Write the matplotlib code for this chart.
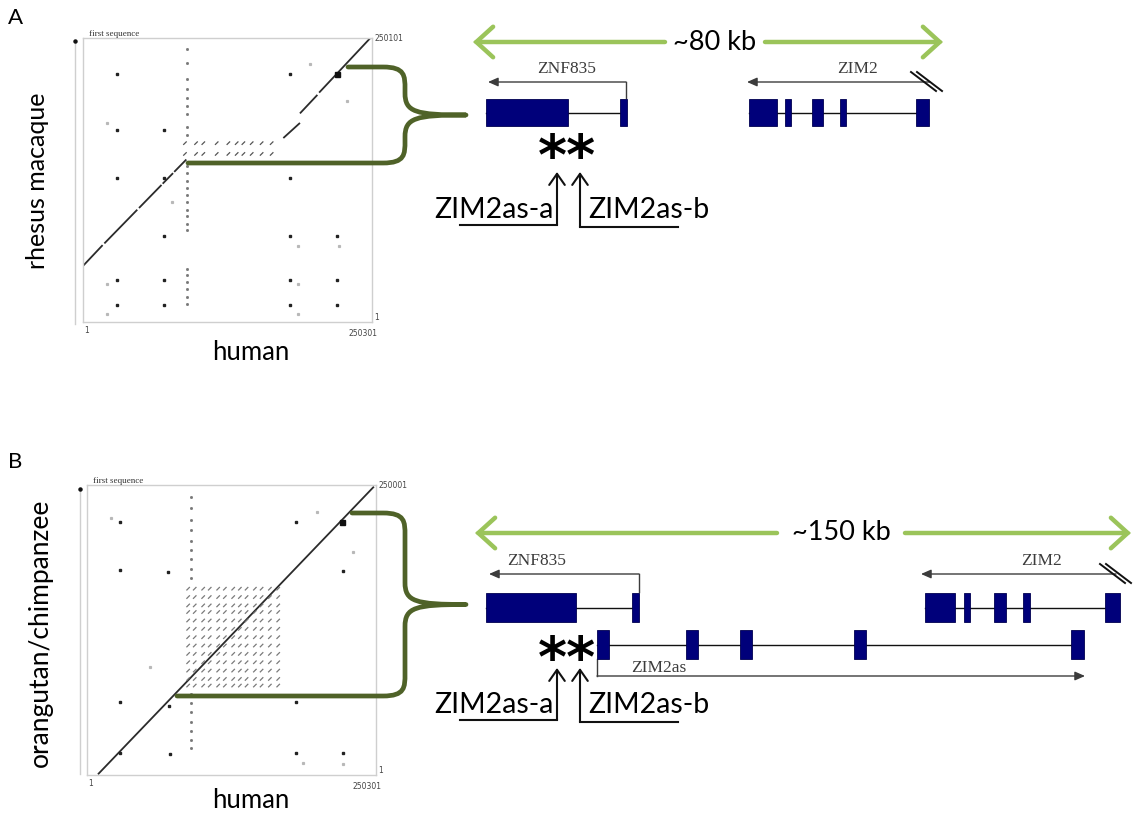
import matplotlib
matplotlib.use('Agg')
import matplotlib.pyplot as plt
from matplotlib.path import Path
from matplotlib.patches import PathPatch, Rectangle, FancyArrowPatch

W, H = 1136, 823
SANS = ['Lato', 'DejaVu Sans']
SERIF = ['Liberation Serif', 'DejaVu Serif']

# ---------------- data: dot plots (sequence coordinates, bp) ----------------
A_xmax, A_ymax = 250301, 250101
B_xmax, B_ymax = 250301, 250001
A_corner_labels = ['1', '250301', '1', '250101']
B_corner_labels = ['1', '250301', '1', '250001']

# diagonal alignment pieces: x0, y0, x1, y1
A_diag_x0 = [300, 18500, 48500, 69000, 79000, 173500, 187900, 204500]
A_diag_y0 = [49700, 69200, 100400, 121800, 132200, 162000, 183700, 202000]
A_diag_x1 = [17000, 47000, 68000, 78000, 89500, 187900, 203000, 248600]
A_diag_y1 = [67700, 98900, 120700, 131100, 143100, 175300, 200000, 249800]

B_diag_x0 = [9500]
B_diag_y0 = [600]
B_diag_x1 = [248500]
B_diag_y1 = [248600]

# tandem-repeat copies (human x, other species y)
A_rep_x = [88300, 97900, 104200, 115800, 125900, 133100, 138900, 146100, 154700, 163400]
A_rep_y = [148000, 157500]
B_rep_x = [87600, 93300, 100600, 106300, 113600, 119400, 126600, 132400, 138200,
           145400, 151200, 158400, 165600]
B_rep_y = [77100, 82800, 90000, 97200, 104400, 111600, 118800, 126000, 133200,
           140500, 146200, 153400, 160600]

# dotted column of short repeat hits
A_col_x = 89800
A_col_y = [240000, 228000, 214000, 205000, 197000, 190000, 183000, 172000, 165000,
           137000, 131000, 124000, 118000, 112000, 106000, 99000, 93000, 86000, 81000,
           47000, 41000, 35000, 29000, 22000, 16000]
B_col_x = 90500
B_col_y = [240000, 230000, 220000, 211000, 202000, 194000, 186000, 178000, 170000,
           70000, 62000, 54000, 46000, 38000, 30000, 23000]

# isolated hits
A_dot_x = [29200, 29200, 70400, 29200, 70400, 179300, 179300, 70400, 179300, 219700,
           29200, 70400, 179300, 219700, 29200, 70400, 179300, 219700]
A_dot_y = [218500, 168800, 168800, 127100, 127100, 218500, 127100, 75600, 75600, 75600,
           36900, 36900, 36900, 36900, 14600, 14600, 14600, 14600]
A_faint_x = [20500, 76800, 228400, 196600, 186500, 186500, 186500, 222000, 20500, 20500]
A_faint_y = [175300, 105400, 194700, 227400, 66700, 33900, 7100, 66700, 33900, 7100]
A_big = (219700, 218500)

B_dot_x = [28300, 28300, 70200, 28300, 70800, 28300, 71700, 180900, 221400, 180900,
           180900, 221400]
B_dot_y = [218300, 176500, 175100, 62600, 59700, 19300, 18500, 218300, 175600, 62600,
           19300, 19300]
B_faint_x = [21100, 54300, 198800, 230000, 187300, 222000]
B_faint_y = [221200, 92900, 227000, 192400, 10700, 9200]
B_big = (220500, 218300)

# ---------------- data: gene diagrams (diagram units) ----------------
A_ZNF835_exons = [(486, 568), (620, 627)]
A_ZIM2_exons = [(749, 777), (785, 791), (812, 823), (840, 846), (916, 929)]
B_ZNF835_exons = [(486, 576), (632, 639)]
B_ZIM2_exons = [(925, 955), (964, 970), (994, 1006), (1023, 1030), (1105, 1120)]
B_ZIM2as_exons = [(597, 609), (686, 698), (740, 752), (854, 866), (1071, 1084)]

A_span_label = '~80 kb'
B_span_label = '~150 kb'

fig = plt.figure(figsize=(W / 100, H / 100), dpi=100)


def px_axes(l, t, r, b, z=1):
    return fig.add_axes([l / W, 1 - b / H, (r - l) / W, (b - t) / H], zorder=z)


def dotplot(ax, xmax, ymax, dx0, dy0, dx1, dy1, rep_x, rep_y, col_x, col_y,
            dot_x, dot_y, faint_x, faint_y, big, corner, rep_color):
    ax.set_xlim(1, xmax)
    ax.set_ylim(1, ymax)
    ax.set_xticks([])
    ax.set_yticks([])
    for s in ax.spines.values():
        s.set_color('#cfcfcf')
        s.set_linewidth(1.0)
    for x0, y0, x1, y1 in zip(dx0, dy0, dx1, dy1):
        ax.plot([x0, x1], [y0, y1], color='#2b2b2b', lw=1.3, solid_capstyle='butt')
    d = 1100
    for i, rx in enumerate(rep_x):
        for j, ry in enumerate(rep_y):
            ax.plot([rx - d, rx + d], [ry - d, ry + d], color=rep_color, lw=0.9)
    ax.plot([col_x] * len(col_y), col_y, ls='none', marker='s', ms=1.0, color='#777777')
    ax.plot(dot_x, dot_y, ls='none', marker='s', ms=2.0, color='#222222')
    ax.plot(faint_x, faint_y, ls='none', marker='s', ms=1.3, color='#b8b8b8')
    ax.plot([big[0]], [big[1]], ls='none', marker='s', ms=3.6, color='#111111')
    ax.text(0.02, 1.0, 'first sequence', transform=ax.transAxes, family=SERIF,
            fontsize=6.5, color='#333333', ha='left', va='bottom')
    ax.text(1.008, 1.0, corner[3], transform=ax.transAxes, family=['DejaVu Sans'],
            fontsize=5.5, color='#444444', ha='left', va='center')
    ax.text(1.008, 0.0, corner[2], transform=ax.transAxes, family=['DejaVu Sans'],
            fontsize=5.5, color='#444444', ha='left', va='bottom')
    ax.text(0.005, -0.015, corner[0], transform=ax.transAxes, family=['DejaVu Sans'],
            fontsize=5.5, color='#444444', ha='left', va='top')
    ax.text(1.02, -0.025, corner[1], transform=ax.transAxes, family=['DejaVu Sans'],
            fontsize=5.5, color='#444444', ha='right', va='top')


axA = px_axes(83, 38, 372, 322)
dotplot(axA, A_xmax, A_ymax, A_diag_x0, A_diag_y0, A_diag_x1, A_diag_y1, A_rep_x, A_rep_y,
        A_col_x, A_col_y, A_dot_x, A_dot_y, A_faint_x, A_faint_y, A_big, A_corner_labels,
        '#555555')
axB = px_axes(87, 485, 376, 775)
dotplot(axB, B_xmax, B_ymax, B_diag_x0, B_diag_y0, B_diag_x1, B_diag_y1, B_rep_x, B_rep_y,
        B_col_x, B_col_y, B_dot_x, B_dot_y, B_faint_x, B_faint_y, B_big, B_corner_labels,
        '#7a7a7a')

# overlay in pixel space
ov = fig.add_axes([0, 0, 1, 1], zorder=10)
ov.set_xlim(0, W)
ov.set_ylim(H, 0)
ov.axis('off')
ov.patch.set_alpha(0)

GREEN = '#4f6228'
LGREEN = '#9bc45a'
NAVY = '#00007a'
GRAY = '#3c3c3c'

# left y-axis lines of dot plots
for x, y0, y1 in [(75, 41, 324), (80, 489, 774)]:
    ov.plot([x, x], [y0, y1], color='#cfcfcf', lw=1.0)
    ov.plot([x], [y0], marker='o', ms=2.2, color='#111111')

# panel letters and axis titles
ov.text(8, 18, 'A', family=SANS, fontsize=16, ha='left', va='center')
ov.text(8, 462, 'B', family=SANS, fontsize=16, ha='left', va='center')
ov.text(38, 181, 'rhesus macaque', family=SANS, fontsize=18, rotation=90,
        ha='center', va='center')
ov.text(251, 352, 'human', family=SANS, fontsize=18.5, ha='center', va='center')
ov.text(40, 633, 'orangutan/chimpanzee', family=SANS, fontsize=19, rotation=90,
        ha='center', va='center')
ov.text(251, 801, 'human', family=SANS, fontsize=18.5, ha='center', va='center')


def brace(x_top, y_top, x_bot, y_bot, x_mid, x_tip):
    y_tip = (y_top + y_bot) / 2.0
    r = 22
    verts = [(x_top, y_top), (x_mid - r, y_top),
             (x_mid, y_top), (x_mid, y_top + r * 0.4), (x_mid, y_top + r),
             (x_mid, y_tip - r),
             (x_mid, y_tip - 3), (x_mid + 10, y_tip), (x_tip, y_tip),
             (x_mid + 10, y_tip), (x_mid, y_tip + 3), (x_mid, y_tip + r),
             (x_mid, y_bot - r),
             (x_mid, y_bot - r * 0.4), (x_mid, y_bot), (x_mid - r, y_bot),
             (x_bot, y_bot)]
    codes = [Path.MOVETO, Path.LINETO,
             Path.CURVE4, Path.CURVE4, Path.CURVE4,
             Path.LINETO,
             Path.CURVE4, Path.CURVE4, Path.CURVE4,
             Path.CURVE4, Path.CURVE4, Path.CURVE4,
             Path.LINETO,
             Path.CURVE4, Path.CURVE4, Path.CURVE4,
             Path.LINETO]
    ov.add_patch(PathPatch(Path(verts, codes), fill=False, ec=GREEN, lw=3.4,
                           capstyle='round', joinstyle='round'))


brace(348, 67, 188, 163, 405, 466)
brace(352, 513, 177, 696, 405, 466)


def span_arrow(x0, x1, y, gap0, gap1, label):
    for a, b in [(gap0, x0), (gap1, x1)]:
        ov.add_patch(FancyArrowPatch((a, y), (b, y), arrowstyle='->,head_length=0.55,head_width=0.5',
                                     mutation_scale=22, color=LGREEN, lw=3.2,
                                     shrinkA=0, shrinkB=0, capstyle='round', joinstyle='miter'))
    ov.text((gap0 + gap1) / 2.0, y, label, family=SANS, fontsize=19.5, ha='center', va='center')


span_arrow(473, 943, 42, 665, 765, A_span_label)
span_arrow(475, 1131, 533, 777, 905, B_span_label)


def gene(exons, y0, y1, zorder=3):
    yc = (y0 + y1) / 2.0
    ov.plot([exons[0][0], exons[-1][1] - 4], [yc, yc], color='#111111', lw=1.0, zorder=zorder - 1)
    for a, b in exons:
        ov.add_patch(Rectangle((a, y0), b - a, y1 - y0, fc=NAVY, ec='#000050', lw=0.6,
                               zorder=zorder))


def tss_arrow(x_start, x_end, y, tick_to=None, label=None, label_x=None, label_y=None):
    if tick_to is not None:
        ov.plot([x_start, x_start], [tick_to, y], color=GRAY, lw=1.0)
    ov.add_patch(FancyArrowPatch((x_start, y), (x_end, y), arrowstyle='-|>,head_length=0.5,head_width=0.22',
                                 mutation_scale=12, color=GRAY, lw=1.0, shrinkA=0, shrinkB=0))
    if label:
        ov.text(label_x, label_y, label, family=SERIF, fontsize=12.5, color=GRAY,
                ha='center', va='center')


def double_slash(x, y0, y1, dx):
    for off in (0, 6):
        ov.plot([x + off, x + off + dx], [y0, y1], color='#111111', lw=1.4)


def primers(x_a, x_b, y_tip, y_a, y_b, x_left, x_right, y_lab):
    for xs, yb, xe in [(x_a, y_a, x_left), (x_b, y_b, x_right)]:
        ov.plot([xe, xs], [yb, yb], color='#111111', lw=1.5)
        ov.add_patch(FancyArrowPatch((xs, yb), (xs, y_tip), arrowstyle='->,head_length=0.5,head_width=0.35',
                                     mutation_scale=16, color='#111111', lw=1.5,
                                     shrinkA=0, shrinkB=0))
    ov.text(x_a - 3, y_lab, 'ZIM2as-a', family=SANS, fontsize=20.5, ha='right', va='center')
    ov.text(x_b + 8, y_lab, 'ZIM2as-b', family=SANS, fontsize=20.5, ha='left', va='center')


# ---- panel A genes
gene(A_ZNF835_exons, 99, 126)
gene(A_ZIM2_exons, 99, 126)
tss_arrow(626, 488, 82, tick_to=98, label='ZNF835', label_x=567, label_y=69)
tss_arrow(930, 747, 82, label='ZIM2', label_x=858, label_y=69)
double_slash(911, 72, 91, 25)
ov.text(567, 159, '**', family=['DejaVu Sans'], fontweight='bold', fontsize=40,
        ha='center', va='center')
primers(557, 580, 172, 225, 227, 460, 678, 210)

# ---- panel B genes
gene(B_ZNF835_exons, 593, 622)
gene(B_ZIM2_exons, 593, 622)
gene(B_ZIM2as_exons, 630, 659)
tss_arrow(639, 489, 574, tick_to=592, label='ZNF835', label_x=537, label_y=561)
tss_arrow(1116, 921, 574, label='ZIM2', label_x=1042, label_y=561)
double_slash(1100, 564, 583, 25)
ov.plot([597, 597], [659, 676], color=GRAY, lw=1.0)
ov.add_patch(FancyArrowPatch((597, 676), (1085, 676), arrowstyle='-|>,head_length=0.5,head_width=0.22',
                             mutation_scale=12, color=GRAY, lw=1.0, shrinkA=0, shrinkB=0))
ov.text(659, 668, 'ZIM2as', family=SERIF, fontsize=12.5, color=GRAY, ha='center', va='center')
ov.text(567, 661, '**', family=['DejaVu Sans'], fontweight='bold', fontsize=40,
        ha='center', va='center')
primers(557, 580, 668, 720, 722, 460, 678, 705)

fig.savefig('out.png', dpi=100)
